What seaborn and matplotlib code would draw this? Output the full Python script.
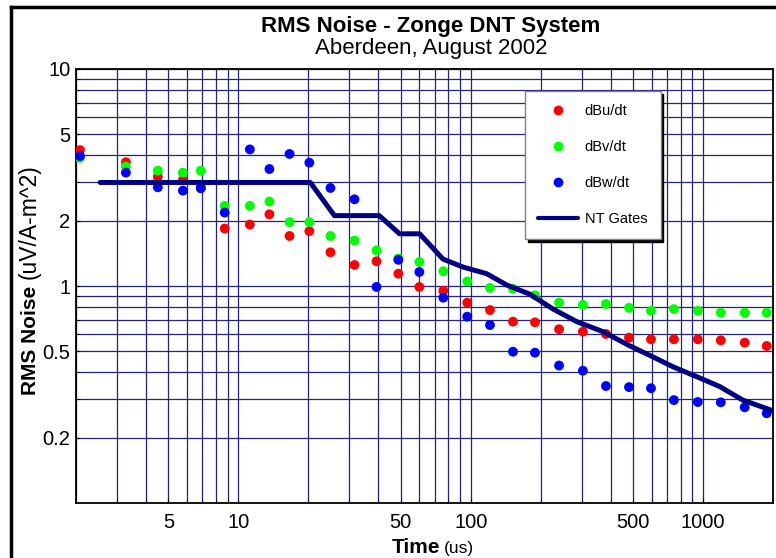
import numpy as np
import pandas as pd
import seaborn as sns
import matplotlib.pyplot as plt
from matplotlib.lines import Line2D
from matplotlib.ticker import FixedLocator, LogLocator, NullFormatter, FuncFormatter

# gate centre times (us)
times = [2.08, 3.28, 4.5, 5.77, 6.89, 8.73, 11.2, 13.6, 16.6, 20.2,
         24.9, 31.6, 39.3, 48.8, 60.1, 76.2, 96.6, 121, 152, 189,
         240, 304, 382, 480, 597, 749, 949, 1192, 1511, 1879]

dbu_dt = [4.23, 3.72, 3.19, 3.08, 2.85, 1.84, 1.92, 2.14, 1.70, 1.79,
          1.43, 1.25, 1.30, 1.14, 0.99, 0.952, 0.838, 0.775, 0.685, 0.680,
          0.632, 0.616, 0.601, 0.578, 0.568, 0.568, 0.568, 0.562, 0.548, 0.529]

dbv_dt = [3.89, 3.55, 3.40, 3.33, 3.40, 2.34, 2.34, 2.45, 1.97, 1.97,
          1.70, 1.62, 1.46, 1.34, 1.29, 1.17, 1.05, 0.98, 0.972, 0.906,
          0.838, 0.818, 0.826, 0.794, 0.769, 0.783, 0.769, 0.753, 0.753, 0.753]

dbw_dt = [3.97, 3.33, 2.85, 2.75, 2.82, 2.18, 4.26, 3.46, 4.06, 3.70,
          2.83, 2.51, 0.99, 1.32, 1.16, 0.883, 0.722, 0.661, 0.498, 0.493,
          0.430, 0.407, 0.346, 0.342, 0.338, 0.298, 0.292, 0.291, 0.276, 0.259]

# NT gates curve
gate_times = [2.54, 20.4, 25.9, 40.4, 49.4, 60.3, 76.0, 93.2, 117, 143,
              180, 227, 286, 371, 475, 607, 740, 939, 1180, 1482, 2000]
gate_noise = [3.0, 3.0, 2.11, 2.11, 1.74, 1.74, 1.33, 1.22, 1.14, 1.01,
              0.916, 0.781, 0.685, 0.616, 0.535, 0.472, 0.425, 0.382, 0.344, 0.298, 0.266]

series_names = ['dBu/dt', 'dBv/dt', 'dBw/dt']
series_colors = ['#ff0000', '#00ff00', '#0000ff']
gate_color = '#000080'

x_ticks = [5, 10, 50, 100, 500, 1000]
y_ticks = [0.2, 0.5, 1, 2, 5, 10]

sns.set_style('white')
plt.rcParams['font.family'] = ['Liberation Sans', 'DejaVu Sans']
plt.rcParams['text.color'] = 'black'

W, H = 776, 558
fig = plt.figure(figsize=(W / 100, H / 100), dpi=100)
ax = fig.add_axes([76 / W, 1 - 503 / H, (773 - 76) / W, (503 - 69) / H])
ax.set_xscale('log')
ax.set_yscale('log')

df = pd.DataFrame({
    'Time': times * 3,
    'Noise': dbu_dt + dbv_dt + dbw_dt,
    'Component': np.repeat(series_names, len(times)),
})
sns.scatterplot(data=df, x='Time', y='Noise', hue='Component',
                palette=dict(zip(series_names, series_colors)),
                s=50, linewidth=0, ax=ax, zorder=3, legend=False)

gates = pd.DataFrame({'Time': gate_times, 'Noise': gate_noise})
sns.lineplot(data=gates, x='Time', y='Noise', color=gate_color, lw=3.6,
             estimator=None, sort=False, ax=ax, zorder=4)

ax.set_xlim(2, 2000)
ax.set_ylim(0.1, 10)

fmt = FuncFormatter(lambda v, p: f'{v:g}')
ax.xaxis.set_major_locator(FixedLocator(x_ticks))
ax.xaxis.set_minor_locator(LogLocator(base=10, subs=np.arange(2, 10)))
ax.xaxis.set_major_formatter(fmt)
ax.xaxis.set_minor_formatter(NullFormatter())
ax.yaxis.set_major_locator(FixedLocator(y_ticks))
ax.yaxis.set_minor_locator(LogLocator(base=10, subs=np.arange(2, 10)))
ax.yaxis.set_major_formatter(fmt)
ax.yaxis.set_minor_formatter(NullFormatter())

ax.grid(True, which='both', color='#24247f', lw=0.9)
ax.set_axisbelow(True)
ax.tick_params(which='both', direction='in', length=3, colors='black',
               bottom=True, left=True)
ax.tick_params(axis='x', labelsize=14.5, pad=7)
ax.tick_params(axis='y', labelsize=14.5, pad=4)
for sp in ax.spines.values():
    sp.set_color('black')
    sp.set_linewidth(1.3)
ax.set_xlabel('')
ax.set_ylabel('')

handles = [Line2D([], [], ls='', marker='o', ms=7, color=c, mec='none') for c in series_colors]
handles.append(Line2D([], [], color=gate_color, lw=3))
ax.legend(handles, series_names + ['NT Gates'], loc='upper left',
          bbox_to_anchor=((525 - 76) / 697, (503 - 91) / 434),
          fancybox=False, edgecolor='#808080', framealpha=1,
          shadow={'color': 'black', 'alpha': 1},
          fontsize=10.5, handlelength=2.7, handletextpad=0.5,
          borderpad=0.9, labelspacing=1.5, borderaxespad=0)

# titles
fig.text(431 / W, 1 - 32.3 / H, 'RMS Noise - Zonge DNT System', ha='center',
         va='baseline', fontsize=16, fontweight='bold')
fig.text(431 / W, 1 - 54.3 / H, 'Aberdeen, August 2002', ha='center',
         va='baseline', fontsize=16)

# axis labels with mixed weights
fig.text(440 / W, 1 - 552.7 / H, 'Time', ha='right', va='baseline',
         fontsize=15, fontweight='bold')
fig.text(444 / W, 1 - 552.7 / H, '(us)', ha='left', va='baseline', fontsize=12.5)

ylab1 = fig.text(36 / W, 1 - 395 / H, 'RMS Noise', rotation=90, rotation_mode='anchor',
                 ha='left', va='baseline', fontsize=15, fontweight='bold')
fig.canvas.draw()
bb = ylab1.get_window_extent()
fig.text(36 / W, (bb.y1 + 7) / H, '(uV/A-m^2)', rotation=90, rotation_mode='anchor',
         ha='left', va='baseline', fontsize=16.5)

# outer frame (cropped at right/bottom)
fig.add_artist(Line2D([10.5 / W, 10.5 / W], [0, 1 - 6.7 / H], color='black', lw=2.5,
                      transform=fig.transFigure, solid_capstyle='projecting'))
fig.add_artist(Line2D([10.5 / W, 1], [1 - 6.7 / H, 1 - 6.7 / H], color='black', lw=2.5,
                      transform=fig.transFigure, solid_capstyle='projecting'))

fig.savefig('out.png', dpi=100)
